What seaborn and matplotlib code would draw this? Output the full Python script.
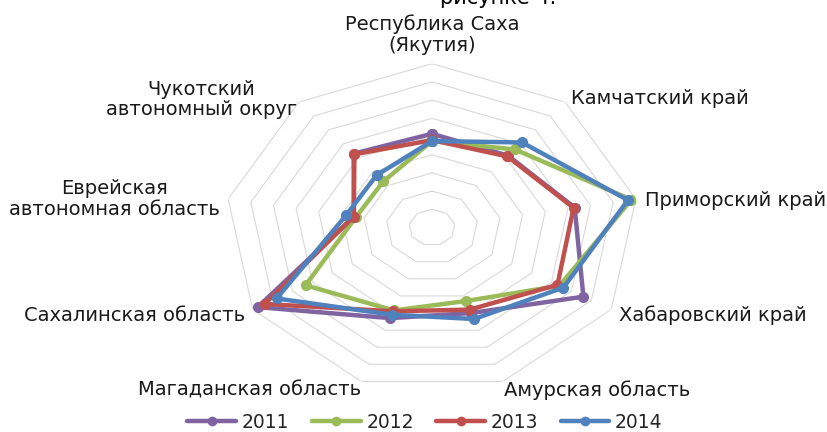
import numpy as np
import pandas as pd
import seaborn as sns
import matplotlib
matplotlib.use("Agg")
from matplotlib import pyplot as plt
from matplotlib.lines import Line2D

regions = ["Республика Саха\n(Якутия)", "Камчатский край", "Приморский край",
           "Хабаровский край", "Амурская область", "Магаданская область",
           "Сахалинская область", "Еврейская\nавтономная область",
           "Чукотский\nавтономный округ"]
years = ["2011", "2012", "2013", "2014"]
v2011 = [5.15, 5.15, 6.3, 7.6, 5.0, 5.3, 8.75, 3.45, 5.3]
v2012 = [4.75, 5.6, 8.8, 6.4, 4.3, 4.85, 6.35, 3.35, 3.3]
v2013 = [4.8, 5.1, 6.25, 6.3, 4.8, 4.9, 8.4, 3.45, 5.25]
v2014 = [4.75, 6.1, 8.65, 6.6, 5.35, 5.1, 7.8, 3.8, 3.75]
colors = ["#8064A2", "#9BBB59", "#C0504D", "#4F81BD"]
n_rings = 9

sns.set_style("white")
plt.rcParams["font.family"] = ["DejaVu Sans"]

n = len(regions)
theta = np.linspace(0, 2 * np.pi, n, endpoint=False)
rows = []
for year, vals in zip(years, [v2011, v2012, v2013, v2014]):
    for i in range(n + 1):
        rows.append([year, theta[i] if i < n else 2 * np.pi, vals[i % n]])
df = pd.DataFrame(rows, columns=["year", "theta", "value"])

fig = plt.figure(figsize=(8.27, 4.32), dpi=100)
ax = fig.add_axes([225 / 827, 40.7 / 432, 414 / 827, 327.6 / 432], projection="polar")
ax.set_theta_zero_location("N")
ax.set_theta_direction(-1)
ax.set_aspect("auto")

# polygon grid
ring_theta = np.append(theta, 2 * np.pi)
for k in range(1, n_rings + 1):
    ax.plot(ring_theta, [k] * len(ring_theta), color="#D9D9D9", lw=0.8, zorder=1)

sns.lineplot(data=df, x="theta", y="value", hue="year", palette=colors,
             sort=False, estimator=None, marker="o", markersize=8,
             markeredgewidth=0, linewidth=3.2, legend=False, ax=ax, zorder=3)

ax.set_ylim(0, n_rings)
ax.grid(False)
ax.spines["polar"].set_visible(False)
ax.set_xticks([])
ax.set_yticks([])
ax.set_xlabel("")
ax.set_ylabel("")

label_pos = [((0, 9), "center", "bottom"), ((6, 4), "left", "center"),
             ((9, -1), "left", "center"), ((8, -6), "left", "center"),
             ((94, -9), "center", "center"), ((-112, -9), "center", "center"),
             ((-8, -6), "right", "center"), ((-8, 0), "right", "center"),
             ((-2, 2.5), "right", "center")]
for t, name, (off, ha, va) in zip(theta, regions, label_pos):
    ax.annotate(name, xy=(t, n_rings), xytext=off, textcoords="offset pixels",
                ha=ha, va=va, multialignment="center", fontsize=14,
                color="#1a1a1a", linespacing=1.1, annotation_clip=False)

fig.text(440 / 827, 1 - 4 / 432, "рисунке 4.", ha="left", va="baseline",
         fontsize=15, color="black")

handles = [Line2D([], [], color=c, lw=3.2, marker="o", markersize=6) for c in colors]
fig.legend(handles, years, loc="center", bbox_to_anchor=(425 / 827, 1 - 422 / 432),
           ncol=4, frameon=False, fontsize=13.5, handlelength=2.6,
           columnspacing=1.2, handletextpad=0.3, borderpad=0)

fig.savefig("out.png", dpi=100)
